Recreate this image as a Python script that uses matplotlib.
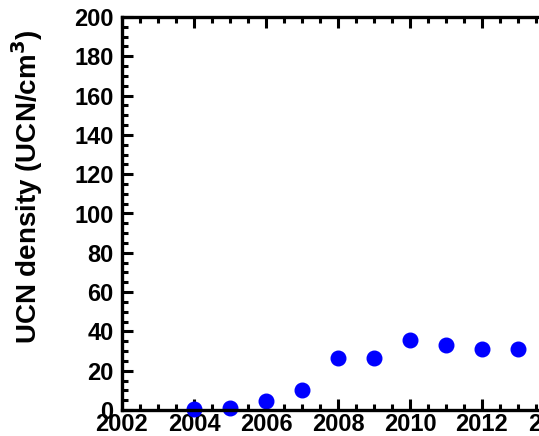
import numpy as np
import matplotlib.pyplot as plt
from matplotlib.ticker import MultipleLocator

# UCN density per year
years = [2004, 2005, 2006, 2007, 2008, 2009, 2010, 2011, 2012, 2013]
density = [0.3, 1.2, 4.5, 10, 26.5, 26.5, 35.5, 33.3, 30.8, 30.8]

plt.rcParams['font.family'] = ['Liberation Sans', 'DejaVu Sans']
plt.rcParams['font.weight'] = 'bold'

fig = plt.figure(figsize=(5.39, 4.36), dpi=100)
# axes runs off the right edge, as in the original crop
ax = fig.add_axes([122 / 539, 26 / 436, 504 / 539, 393 / 436])

ax.plot(years, density, 'o', color='#0000ff', markersize=10.5, clip_on=False)

ax.set_xlim(2002, 2016)
ax.set_ylim(0, 200)
ax.xaxis.set_major_locator(MultipleLocator(2))
ax.xaxis.set_minor_locator(MultipleLocator(0.5))
ax.yaxis.set_major_locator(MultipleLocator(20))
ax.yaxis.set_minor_locator(MultipleLocator(5))

ax.tick_params(which='both', direction='in', top=True, right=True, width=2.2,
               labelsize=17)
ax.tick_params(axis='x', pad=2)
ax.tick_params(axis='y', pad=6)
ax.tick_params(which='major', length=8)
ax.tick_params(which='minor', length=4.5)
for s in ax.spines.values():
    s.set_linewidth(2.4)

ax.set_ylabel('UCN density (UCN/cm$^\\mathbf{3}$)', fontsize=20, fontweight='bold')
ax.yaxis.set_label_coords(-0.152, 0.567)

fig.savefig('out.png', dpi=100)
